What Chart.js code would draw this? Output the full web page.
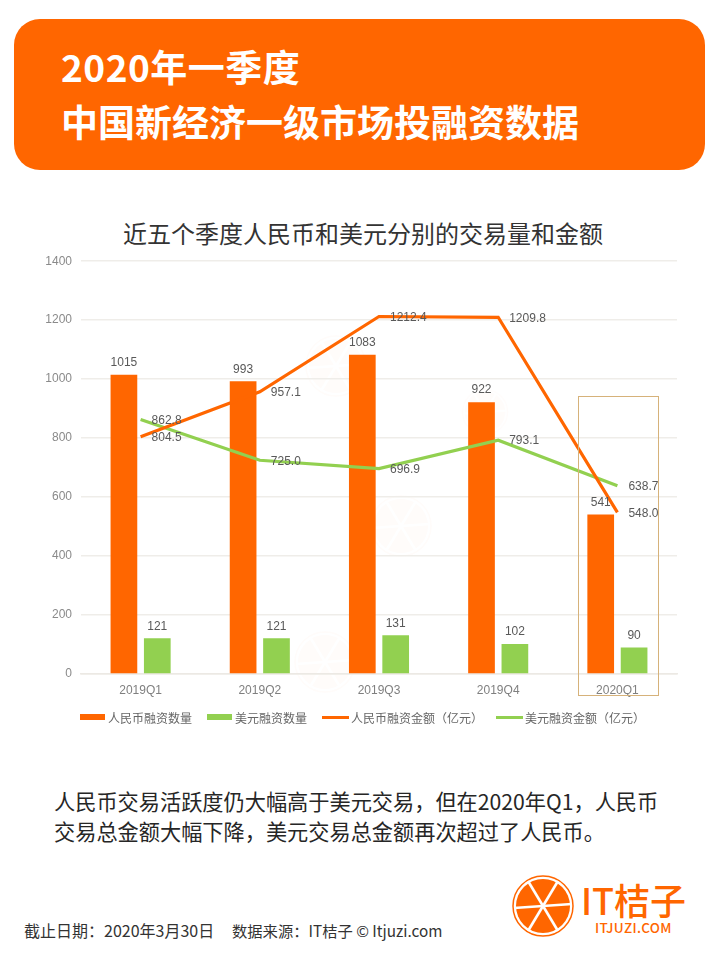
<!DOCTYPE html>
<html lang="zh">
<head>
<meta charset="utf-8">
<title>2020年一季度中国新经济一级市场投融资数据</title>
<script src="https://cdn.jsdelivr.net/npm/chart.js@4"></script>
<style>
  html, body { margin: 0; padding: 0; background: #fff; }
  body { position: relative; width: 719px; height: 959px; overflow: hidden; font-family: "Noto Sans CJK SC", sans-serif; }
  .abs { position: absolute; white-space: nowrap; }
  .header { left: 14px; top: 19px; width: 691px; height: 151px; background: #ff6600; border-radius: 26px; }
  .headline { left: 61px; color: #fff; font-size: 37px; font-weight: 700; line-height: 50px; }
  .chart-title { left: 0; width: 726px; top: 215px; text-align: center; font-size: 24px; line-height: 36px; color: #333; }
  #chartWrap { left: 0; top: 245px; width: 690px; height: 456px; }
  .highlight { left: 578px; top: 396px; width: 79px; height: 298px; border: 1px solid #d6b27a; }
  .swatch { height: 6px; background: #ff6600; }
  .legend-text { font-size: 12px; line-height: 18px; color: #666; }
  .body-text { left: 54px; font-size: 21.2px; line-height: 30px; color: #262626; }
  .footer { top: 920px; line-height: 20px; color: #333; }
  .logo-text { left: 581px; top: 875px; font-size: 36px; line-height: 48px; color: #ff6600; font-weight: 500; }
  .logo-sub { left: 595px; top: 918px; font-size: 13.5px; line-height: 18px; color: #ff6600; font-weight: 500; letter-spacing: .3px; }
</style>
</head>
<body>
<svg class="abs" style="left:0;top:0" width="719" height="959">
  <defs>
    <g id="orange">
      <circle r="30" fill="none" stroke="#ff6600" stroke-width="1.5"/>
      <circle r="27" fill="#ff6600"/>
      <g stroke="#fff" stroke-width="2.6">
        <line x1="-29" y1="2" x2="29" y2="-2"/>
        <line x1="-15" y1="-25" x2="15" y2="25"/>
        <line x1="15" y1="-25" x2="-15" y2="25"/>
      </g>
    </g>
  </defs>
  <!-- watermark -->
  <g opacity="0.022">
    <use href="#orange" transform="translate(336 366)"/>
    <use href="#orange" transform="translate(401 526)"/>
    <use href="#orange" transform="translate(325 662)"/>
    <use href="#orange" transform="translate(485 412) scale(.75)"/>
  </g>
</svg>

<div class="abs header"></div>
<div class="abs headline" style="top:41px;letter-spacing:.5px">2020年一季度</div>
<div class="abs headline" style="top:96px">中国新经济一级市场投融资数据</div>

<div class="abs chart-title">近五个季度人民币和美元分别的交易量和金额</div>
<div class="abs" id="chartWrap"><canvas id="fundingChart"></canvas></div>
<div class="abs highlight"></div>
<div id="legend"></div>

<div class="abs body-text" style="top:786px">人民币交易活跃度仍大幅高于美元交易，但在2020年Q1，人民币</div>
<div class="abs body-text" style="top:816px">交易总金额大幅下降，美元交易总金额再次超过了人民币。</div>
<div class="abs footer" style="left:24px;font-size:16px">截止日期：2020年3月30日</div>
<div class="abs footer" style="left:232px;font-size:15.3px">数据来源：IT桔子 © Itjuzi.com</div>

<svg class="abs" style="left:505px;top:868px" width="76" height="76">
  <use href="#orange" transform="translate(38 38)"/>
</svg>
<div class="abs logo-text">IT桔子</div>
<div class="abs logo-sub">ITJUZI.COM</div>

<script>
const categories = ['2019Q1', '2019Q2', '2019Q3', '2019Q4', '2020Q1'];
const rmbDeals = [1015, 993, 1083, 922, 541];
const usdDeals = [121, 121, 131, 102, 90];
const rmbAmount = [804.5, 957.1, 1212.4, 1209.8, 548.0];
const usdAmount = [862.8, 725.0, 696.9, 793.1, 638.7];
const yTicks = [0, 200, 400, 600, 800, 1000, 1200, 1400];

const ORANGE = '#ff6600';
const GREEN = '#92d050';
const FONT = '"Liberation Sans", Arial, sans-serif';

// legend is plain html so the swatches can differ between bars and lines
const legendItems = [
  { name: '人民币融资数量', color: ORANGE, x: 80, w: 25, h: 6, textX: 108 },
  { name: '美元融资数量', color: GREEN, x: 207, w: 25, h: 6, textX: 235 },
  { name: '人民币融资金额（亿元）', color: ORANGE, x: 322, w: 27, h: 3, textX: 351 },
  { name: '美元融资金额（亿元）', color: GREEN, x: 496, w: 27, h: 3, textX: 525 },
];
document.getElementById('legend').innerHTML = legendItems.map((it) =>
  `<div class="abs swatch" style="left:${it.x}px;top:${718 - it.h / 2 - 1}px;width:${it.w}px;height:${it.h}px;background:${it.color}"></div>` +
  `<div class="abs legend-text" style="left:${it.textX}px;top:709px">${it.name}</div>`
).join('');

// value labels: above the bars, to the right of the line points
const valueLabels = {
  id: 'valueLabels',
  afterDatasetsDraw(chart) {
    const ctx = chart.ctx;
    ctx.save();
    ctx.font = '12px ' + FONT;
    ctx.fillStyle = '#595959';
    chart.data.datasets.forEach((ds, i) => {
      chart.getDatasetMeta(i).data.forEach((el, j) => {
        if (ds.type === 'bar') {
          ctx.textAlign = 'center';
          ctx.textBaseline = 'bottom';
          ctx.fillText(String(ds.data[j]), el.x, el.y - 6);
        } else {
          ctx.textAlign = 'left';
          ctx.textBaseline = 'middle';
          ctx.fillText(ds.data[j].toFixed(1), el.x + 11, el.y + 1);
        }
      });
    });
    ctx.restore();
  },
};

new Chart(document.getElementById('fundingChart'), {
  data: {
    labels: categories,
    datasets: [
      { type: 'bar', label: '人民币融资数量', data: rmbDeals, backgroundColor: ORANGE, order: 2, categoryPercentage: 0.56, barPercentage: 0.8 },
      { type: 'bar', label: '美元融资数量', data: usdDeals, backgroundColor: GREEN, order: 2, categoryPercentage: 0.56, barPercentage: 0.8 },
      { type: 'line', label: '人民币融资金额（亿元）', data: rmbAmount, borderColor: ORANGE, borderWidth: 3.2, pointRadius: 0, tension: 0, order: 1 },
      { type: 'line', label: '美元融资金额（亿元）', data: usdAmount, borderColor: GREEN, borderWidth: 3.2, pointRadius: 0, tension: 0, order: 1 },
    ],
  },
  options: {
    responsive: true,
    maintainAspectRatio: false,
    animation: false,
    layout: { padding: { top: 5, right: 13, left: 0, bottom: 0 } },
    plugins: { legend: { display: false }, tooltip: { enabled: false } },
    scales: {
      x: {
        grid: { display: false },
        border: { color: '#ece9e4', width: 1.5 },
        ticks: { color: '#7f7f7f', font: { size: 12, family: FONT }, padding: 1 },
        afterFit(scale) { scale.height = 27; },
      },
      y: {
        min: 0,
        max: 1400,
        afterBuildTicks(scale) { scale.ticks = yTicks.map((v) => ({ value: v })); },
        grid: { color: '#efede9', lineWidth: 1.5, drawTicks: false },
        border: { display: false },
        ticks: { color: '#8a8a8a', font: { size: 12, family: FONT }, padding: 9, callback: (v) => String(v) },
        afterFit(scale) { scale.width = 81; },
      },
    },
  },
  plugins: [valueLabels],
});
</script>
</body>
</html>
